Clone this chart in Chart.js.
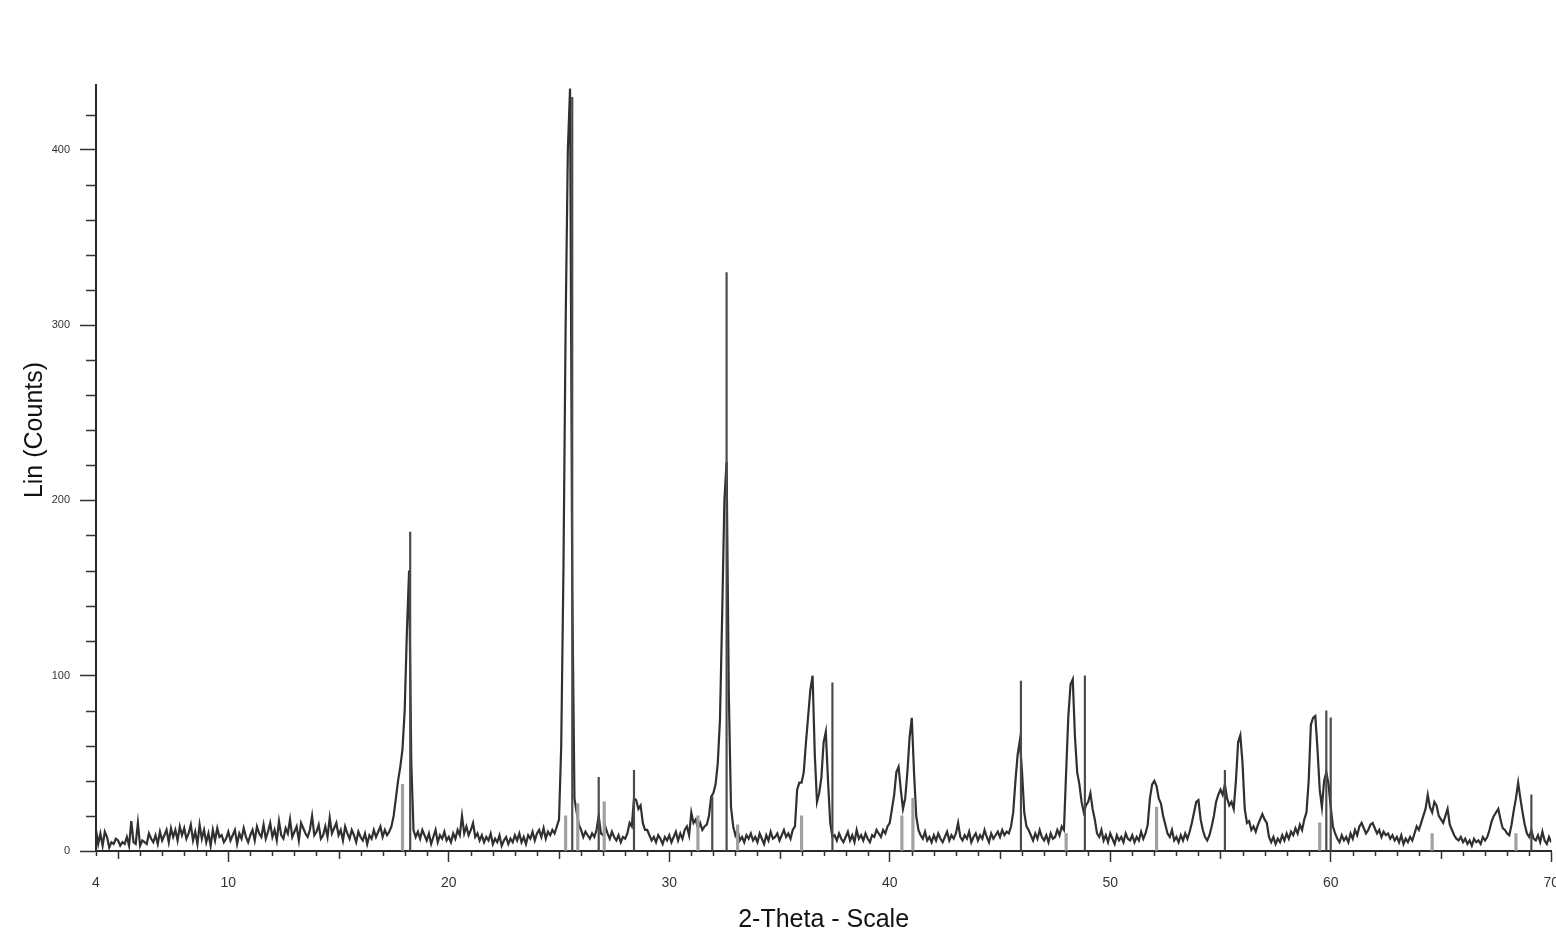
<!DOCTYPE html>
<html>
<head>
<meta charset="utf-8">
<title>XRD pattern</title>
<script src="https://cdn.jsdelivr.net/npm/chart.js@4.4.1/dist/chart.umd.min.js"></script>
<style>
  html, body { margin: 0; padding: 0; background: #fff; overflow: hidden; }
  #wrap { position: relative; width: 1572px; height: 939px; }
</style>
</head>
<body>
<div id="wrap"><canvas id="xrd"></canvas></div>
<script>
'use strict'

// scan: 2-theta from 4 to 70 deg, one reading every 0.1 deg
const scanStart = 4
const scanStep = 0.1
const counts = [
  12, 4, 10, 3, 11, 8, 2, 5, 4, 7,          // 4
  6, 3, 5, 4, 8, 3, 17, 5, 4, 16,           // 5
  3, 6, 5, 4, 10, 7, 5, 9, 4, 11,           // 6
  6, 9, 12, 5, 13, 8, 12, 6, 14, 9,         // 7
  13, 7, 10, 15, 6, 11, 4, 15, 7, 12,       // 8
  5, 10, 3, 12, 6, 13, 8, 9, 5, 7,          // 9
  11, 6, 9, 12, 4, 10, 7, 13, 8, 5,         // 10
  9, 12, 6, 14, 10, 8, 15, 7, 11, 16,       // 11
  8, 12, 6, 17, 9, 7, 13, 10, 18, 8,        // 12
  11, 14, 6, 16, 13, 10, 8, 12, 20, 9,      // 13
  11, 15, 7, 9, 14, 8, 19, 10, 13, 16,      // 14
  9, 12, 6, 14, 10, 7, 12, 9, 5, 11,        // 15
  8, 6, 10, 4, 9, 7, 12, 8, 11, 14,         // 16
  8, 12, 9, 11, 14, 20, 30, 40, 48, 58,     // 17
  80, 125, 160, 50, 12, 8, 11, 7, 12, 9,    // 18
  6, 10, 4, 8, 12, 5, 9, 7, 11, 6,          // 19
  8, 5, 10, 7, 12, 9, 20, 10, 14, 9,        // 20
  12, 16, 8, 10, 6, 9, 5, 8, 6, 10,         // 21
  4, 7, 5, 9, 3, 6, 8, 4, 7, 5,             // 22
  9, 6, 10, 5, 8, 4, 9, 7, 11, 6,           // 23
  10, 12, 8, 13, 7, 11, 9, 12, 10, 14,      // 24
  18, 60, 160, 300, 400, 435, 150, 30, 22, 15, // 25
  12, 8, 11, 9, 7, 10, 8, 12, 20, 10,       // 26
  9, 14, 10, 7, 11, 8, 6, 9, 5, 8,          // 27
  7, 10, 16, 14, 30, 29, 24, 26, 16, 12,    // 28
  12, 9, 6, 8, 5, 9, 7, 4, 8, 6,            // 29
  9, 5, 8, 11, 6, 10, 7, 12, 14, 9,         // 30
  22, 16, 18, 13, 16, 12, 14, 15, 20, 31,   // 31
  33, 38, 50, 75, 135, 200, 222, 90, 25, 14, // 32
  9, 12, 6, 8, 5, 9, 7, 10, 6, 8,           // 33
  5, 10, 7, 4, 9, 6, 11, 7, 8, 10,          // 34
  6, 9, 12, 8, 10, 7, 12, 14, 35, 39,       // 35
  39, 45, 62, 77, 92, 100, 55, 28, 33, 42,  // 36
  62, 68, 40, 16, 8, 9, 6, 10, 7, 5,        // 37
  8, 11, 6, 9, 5, 12, 7, 9, 6, 10,          // 38
  7, 5, 9, 8, 12, 10, 8, 12, 10, 14,        // 39
  16, 24, 32, 45, 48, 35, 24, 30, 45, 65,   // 40
  76, 45, 20, 12, 9, 7, 11, 6, 8, 5,        // 41
  9, 6, 10, 7, 5, 8, 11, 6, 9, 7,           // 42
  10, 16, 8, 6, 9, 7, 11, 5, 8, 10,         // 43
  6, 9, 7, 12, 8, 5, 10, 7, 9, 11,          // 44
  8, 12, 9, 11, 10, 14, 22, 40, 55, 63,     // 45
  45, 22, 14, 12, 9, 6, 10, 7, 12, 8,       // 46
  6, 9, 5, 10, 7, 8, 12, 9, 14, 12,         // 47
  45, 77, 95, 98, 65, 45, 38, 28, 22, 26,   // 48
  28, 33, 24, 18, 10, 8, 12, 6, 9, 5,       // 49
  10, 7, 4, 9, 6, 8, 5, 10, 7, 6,           // 50
  9, 5, 8, 6, 11, 7, 10, 15, 30, 38,        // 51
  40, 37, 30, 27, 20, 15, 10, 8, 12, 6,     // 52
  8, 5, 9, 6, 10, 7, 11, 16, 22, 28,        // 53
  29, 18, 12, 8, 6, 9, 14, 20, 28, 32,      // 54
  35, 32, 38, 30, 26, 28, 24, 40, 62, 66,   // 55
  50, 24, 16, 17, 12, 14, 11, 15, 18, 21,   // 56
  18, 16, 8, 5, 8, 4, 7, 5, 9, 6,           // 57
  10, 7, 11, 9, 13, 10, 15, 12, 18, 22,     // 58
  40, 72, 76, 77, 58, 35, 25, 40, 45, 38,   // 59
  25, 14, 10, 7, 5, 9, 6, 8, 5, 10,         // 60
  7, 12, 9, 14, 16, 13, 10, 12, 15, 16,     // 61
  13, 10, 12, 8, 11, 9, 10, 7, 9, 6,        // 62
  8, 5, 9, 4, 7, 5, 8, 6, 10, 14,           // 63
  12, 16, 20, 24, 32, 25, 22, 28, 26, 20,   // 64
  18, 16, 20, 24, 15, 12, 9, 7, 6, 8,       // 65
  5, 7, 4, 6, 3, 7, 5, 6, 4, 8,             // 66
  6, 8, 12, 17, 20, 22, 24, 18, 13, 12,     // 67
  10, 9, 15, 23, 30, 39, 30, 22, 15, 10,    // 68
  8, 12, 7, 6, 9, 5, 11, 6, 4, 8,           // 69
  5                                         // 70
]

// reference pattern sticks: [2-theta, height]
const phaseDark = [
  [18.25, 182], [25.6, 430], [26.8, 42], [28.4, 46], [31.95, 31], [32.6, 330],
  [37.4, 96], [45.95, 97], [48.85, 100], [55.2, 46], [59.8, 80], [60.0, 76], [69.1, 32]
]
const phaseGrey = [
  [17.9, 38], [25.3, 20], [25.85, 27], [27.05, 28], [31.3, 20], [33.1, 15],
  [36.0, 20], [40.55, 20], [41.05, 30], [48.0, 10], [52.1, 25], [59.5, 16],
  [64.6, 10], [68.4, 10]
]

const xTitle = '2-Theta - Scale'
const yTitle = 'Lin (Counts)'

const scanPoints = counts.map((c, i) => ({ x: +(scanStart + i * scanStep).toFixed(1), y: c }))
const sticks = list => list.map(([x, y]) => ({ x, y }))

const fontFamily = '"Liberation Sans", Arial, sans-serif'

// short ticks between the labelled ones, plus the y title
const extraTicks = {
  id: 'extraTicks',
  afterDraw(chart) {
    const { ctx, scales: { x, y } } = chart
    ctx.save()
    ctx.strokeStyle = '#333'
    ctx.lineWidth = 1.5
    ctx.beginPath()
    y.ticks.forEach(t => {
      if (t.value % 100 === 0) return
      const py = Math.round(y.getPixelForValue(t.value)) + 0.5
      ctx.moveTo(y.right - 10, py)
      ctx.lineTo(y.right, py)
    })
    x.ticks.forEach(t => {
      if (t.value % 10 === 0) return
      const px = Math.round(x.getPixelForValue(t.value)) + 0.5
      ctx.moveTo(px, x.top)
      ctx.lineTo(px, x.top + (t.value % 5 === 0 ? 8 : 5))
    })
    ctx.stroke()

    ctx.translate(35, 430)
    ctx.rotate(-Math.PI / 2)
    ctx.fillStyle = '#111'
    ctx.font = '25px ' + fontFamily
    ctx.textAlign = 'center'
    ctx.textBaseline = 'middle'
    ctx.fillText(yTitle, 0, 0)
    ctx.restore()
  }
}

new Chart(document.getElementById('xrd'), {
  type: 'line',
  data: {
    datasets: [
      {
        type: 'bar',
        data: sticks(phaseGrey),
        backgroundColor: '#a0a0a0',
        barThickness: 2.5,
        grouped: false,
        order: 1
      },
      {
        type: 'bar',
        data: sticks(phaseDark),
        backgroundColor: '#4a4a4a',
        barThickness: 1.5,
        grouped: false,
        order: 0
      },
      {
        data: scanPoints,
        borderColor: '#303030',
        borderWidth: 2.2,
        pointRadius: 0,
        tension: 0,
        order: 2
      }
    ]
  },
  options: {
    responsive: true,
    maintainAspectRatio: false,
    animation: false,
    layout: { padding: { top: 85, right: 10, left: 0, bottom: 0 } },
    plugins: { legend: { display: false }, tooltip: { enabled: false } },
    scales: {
      x: {
        type: 'linear',
        min: 4,
        max: 70,
        offset: false,
        afterFit(scale) { scale.height = 88 },
        ticks: {
          stepSize: 1,
          autoSkip: false,
          maxRotation: 0,
          padding: 13,
          color: '#333',
          font: { family: fontFamily, size: 14 },
          callback: v => (v === 4 || v % 10 === 0) ? String(v) : ''
        },
        grid: {
          offset: false,
          drawOnChartArea: false,
          tickLength: 11,
          tickWidth: 1.5,
          tickColor: c => (c.tick && c.tick.value % 10 === 0) ? '#333' : 'rgba(0,0,0,0)'
        },
        border: { display: true, color: '#2a2a2a', width: 2 },
        title: {
          display: true,
          text: xTitle,
          color: '#111',
          font: { family: fontFamily, size: 25 },
          padding: { top: 0, bottom: 4 }
        }
      },
      y: {
        min: 0,
        max: 437,
        afterFit(scale) { scale.width = 96 },
        ticks: {
          stepSize: 20,
          includeBounds: false,
          padding: 10,
          color: '#333',
          font: { family: fontFamily, size: 11 },
          callback: v => v % 100 === 0 ? String(v) : ''
        },
        grid: {
          drawOnChartArea: false,
          tickLength: 16,
          tickWidth: 1.5,
          tickColor: c => (c.tick && c.tick.value % 100 === 0) ? '#333' : 'rgba(0,0,0,0)'
        },
        border: { display: true, color: '#2a2a2a', width: 2 }
      }
    }
  },
  plugins: [extraTicks]
})
</script>
</body>
</html>
